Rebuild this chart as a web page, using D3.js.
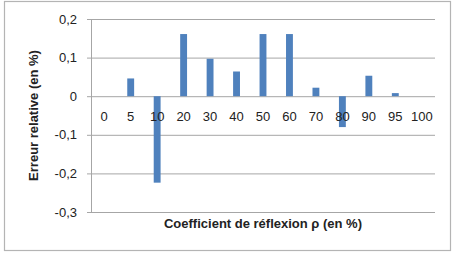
<html lang="fr">
<head>
<style>
body { margin: 0; background: #fff; }
text { font-family: "Liberation Sans", Arial, sans-serif; }
</style>
</head>
<body>
<script type='text/javascript' src='https://d3js.org/d3.v7.min.js'></script>
<script>
// data
const categories = ["0", "5", "10", "20", "30", "40", "50", "60", "70", "80", "90", "95", "100"];
const values = [0, 0.046, -0.224, 0.161, 0.097, 0.064, 0.161, 0.161, 0.022, -0.080, 0.053, 0.008, 0];
const yTicks = [-0.3, -0.2, -0.1, 0, 0.1, 0.2];

const W = 457, H = 254;
const margin = {top: 19, right: 22, bottom: 42, left: 91};
const width = W - margin.left - margin.right;
const height = H - margin.top - margin.bottom;

var svg = d3.select('body')
.append("svg")
.attr("width", W)
.attr("height", H);

// chart frame
svg.append("rect")
.attr("x", 4.5).attr("y", 1.5)
.attr("width", 446).attr("height", 249)
.attr("fill", "#fff")
.attr("stroke", "#b4b4b4")
.attr("stroke-width", 1.2);

var g = svg.append("g")
.attr("transform", "translate(" + margin.left + "," + margin.top + ")");

var x = d3.scaleBand()
.domain(categories)
.range([0, width])
.paddingInner(0.74)
.paddingOuter(0.37);

var y = d3.scaleLinear()
.domain([-0.3, 0.2])
.range([height, 0]);

var fmt = function(d) { return d === 0 ? "0" : d3.format(".1f")(d).replace(".", ",").replace("−", "-"); };

// gridlines + y axis
var yAxis = g.append("g")
.call(d3.axisLeft(y).tickValues(yTicks).tickSize(-width).tickPadding(14).tickFormat(fmt));
yAxis.select(".domain").remove();
yAxis.selectAll(".tick line")
.attr("x1", -4)
.attr("stroke", "#a6a6a6");
yAxis.selectAll(".tick text")
.attr("font-size", 13)
.attr("fill", "#222")
.style("font-family", "'Liberation Sans', Arial, sans-serif");

g.append("line")
.attr("x1", 0.5).attr("x2", 0.5)
.attr("y1", 0).attr("y2", height)
.attr("stroke", "#a6a6a6");

// bars
g.selectAll("rect.bar")
.data(values)
.enter()
.append("rect")
.attr("class", "bar")
.attr("x", function(d, i) { return x(categories[i]); })
.attr("y", function(d) { return y(Math.max(0, d)); })
.attr("width", x.bandwidth())
.attr("height", function(d) { return Math.abs(y(d) - y(0)); })
.attr("fill", "#4f81bd");

// category labels (under the zero line)
var xAxis = g.append("g")
.attr("transform", "translate(0," + y(0) + ")")
.call(d3.axisBottom(x).tickSize(0).tickPadding(16));
xAxis.select(".domain").remove();
xAxis.selectAll(".tick text")
.attr("font-size", 13)
.attr("fill", "#222")
.style("font-family", "'Liberation Sans', Arial, sans-serif");

// titles
svg.append("text")
.attr("x", margin.left + width / 2)
.attr("y", 228)
.attr("text-anchor", "middle")
.attr("font-size", 13)
.attr("font-weight", "bold")
.attr("fill", "#222")
.text("Coefficient de réflexion ρ (en %)");

svg.append("text")
.attr("transform", "translate(38," + (margin.top + height / 2) + ") rotate(-90)")
.attr("text-anchor", "middle")
.attr("font-size", 13)
.attr("font-weight", "bold")
.attr("fill", "#222")
.text("Erreur relative (en %)");
</script>
</body>
</html>
